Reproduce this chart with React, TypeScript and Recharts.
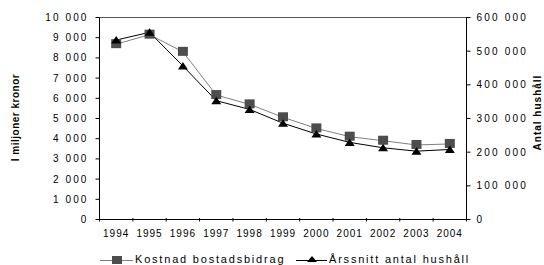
import React from 'react';
import { ComposedChart, Line, XAxis, YAxis, CartesianGrid, Legend } from 'recharts';

const years = ['1994', '1995', '1996', '1997', '1998', '1999', '2000', '2001', '2002', '2003', '2004'];
const kostnad = [8680, 9150, 8300, 6160, 5700, 5060, 4510, 4100, 3900, 3690, 3740];
const hushall = [533000, 556000, 456000, 353000, 327000, 286000, 254000, 229000, 213000, 203000, 208000];
const leftTicks = [0, 1000, 2000, 3000, 4000, 5000, 6000, 7000, 8000, 9000, 10000];
const rightTicks = [0, 100000, 200000, 300000, 400000, 500000, 600000];

const data = years.map((y, i) => ({ year: y, kostnad: kostnad[i], hushall: hushall[i] }));

const fmt = (v: number) => {
  const s = String(Math.round(v));
  return s.replace(/\B(?=(\d{3})+(?!\d))/g, ' ');
};

const FONT = 'Liberation Sans, Arial, sans-serif';

const SquareDot = (props: any) => {
  const { cx, cy } = props;
  if (cx == null || cy == null) return null;
  return <rect x={cx - 5} y={cy - 5} width={10} height={9} fill="#4d4d4d" stroke="none" />;
};

const TriDot = (props: any) => {
  const { cx, cy } = props;
  if (cx == null || cy == null) return null;
  return <polygon points={`${cx - 5},${cy + 3.5} ${cx + 5},${cy + 3.5} ${cx},${cy - 4}`} fill="#000" />;
};

const XTick = (props: any) => {
  const { x, y, payload, index } = props;
  const step = 367 / 11;
  const ay = y - 8;
  return (
    <g>
      <line x1={x - step / 2} x2={x - step / 2} y1={ay - 1.5} y2={ay + 2} stroke="#000" />
      {index === years.length - 1 && (
        <line x1={x + step / 2} x2={x + step / 2} y1={ay - 1.5} y2={ay + 2} stroke="#000" />
      )}
      <text x={x} y={y + 9} textAnchor="middle" fontSize={10} letterSpacing={1} fontFamily={FONT} fill="#000">
        {payload.value}
      </text>
    </g>
  );
};

const LegendContent = () => (
  <div style={{ position: 'relative', height: 0, width: 544 }}>
    <svg width={544} height={20} style={{ position: 'absolute', left: 0, top: 0, overflow: 'visible' }}>
      <line x1={100} x2={133} y1={260.5} y2={260.5} stroke="#808080" strokeWidth={1} />
      <rect x={112} y={256} width={10} height={8} fill="#4d4d4d" />
      <text x={135} y={262.5} fontSize={11} letterSpacing={1.8} fontFamily={FONT} fill="#000">
        Kostnad bostadsbidrag
      </text>
      <line x1={296} x2={327} y1={260.5} y2={260.5} stroke="#000" strokeWidth={1} />
      <polygon points="307,262 317,262 312,256" fill="#000" />
      <text x={329} y={262.5} fontSize={11} letterSpacing={1.8} fontFamily={FONT} fill="#000">
        Årssnitt antal hushåll
      </text>
    </svg>
  </div>
);

export default function App() {
  return (
    <div style={{ position: 'absolute', left: 0, top: 0, width: 544, height: 265, background: '#fff' }}>
      <ComposedChart
        width={544}
        height={265}
        data={data}
        margin={{ top: 17.5, right: 0, left: 0, bottom: 0 }}
      >
        <CartesianGrid vertical={false} stroke="#555" strokeWidth={1} />
        <XAxis
          dataKey="year"
          scale="band"
          height={45.5}
          axisLine={{ stroke: '#000' }}
          tickLine={false}
          tick={<XTick />}
          interval={0}
        />
        <YAxis
          yAxisId="left"
          width={99.5}
          domain={[0, 10000]}
          ticks={leftTicks}
          tickFormatter={fmt}
          axisLine={{ stroke: '#000' }}
          tickLine={{ stroke: '#000' }}
          tickSize={4}
          tickMargin={7}
          tick={{ fontSize: 10, letterSpacing: 2.1, fontFamily: FONT, fill: '#000' }}
          interval={0}
          label={(p: any) => {
            const vb = p.viewBox;
            const cx = vb.x + 15.5;
            const cy = 117.5;
            return (
              <text x={cx} y={cy} transform={`rotate(-90 ${cx} ${cy})`} textAnchor="middle" dominantBaseline="central"
                fontSize={10} fontWeight="bold" letterSpacing={0.5} fontFamily={FONT} fill="#000">
                I miljoner kronor
              </text>
            );
          }}
        />
        <YAxis
          yAxisId="right"
          orientation="right"
          width={77.5}
          domain={[0, 600000]}
          ticks={rightTicks}
          tickFormatter={fmt}
          axisLine={{ stroke: '#000' }}
          tickLine={{ stroke: '#000' }}
          tickSize={4}
          tickMargin={6}
          tick={{ fontSize: 10, letterSpacing: 2.2, fontFamily: FONT, fill: '#000' }}
          interval={0}
          label={(p: any) => {
            const vb = p.viewBox;
            const cx = vb.x + 70.5;
            const cy = 112.5;
            return (
              <text x={cx} y={cy} transform={`rotate(-90 ${cx} ${cy})`} textAnchor="middle" dominantBaseline="central"
                fontSize={10} fontWeight="bold" letterSpacing={1} fontFamily={FONT} fill="#000">
                Antal hushåll
              </text>
            );
          }}
        />
        <Legend verticalAlign="bottom" content={<LegendContent />} wrapperStyle={{ left: 0, top: 0, width: 544, height: 0 }} />
        <Line
          yAxisId="left"
          type="linear"
          dataKey="kostnad"
          name="Kostnad bostadsbidrag"
          stroke="#808080"
          strokeWidth={1}
          dot={<SquareDot />}
          activeDot={false}
          isAnimationActive={false}
        />
        <Line
          yAxisId="right"
          type="linear"
          dataKey="hushall"
          name="Årssnitt antal hushåll"
          stroke="#000"
          strokeWidth={1}
          dot={<TriDot />}
          activeDot={false}
          isAnimationActive={false}
        />
      </ComposedChart>
    </div>
  );
}
